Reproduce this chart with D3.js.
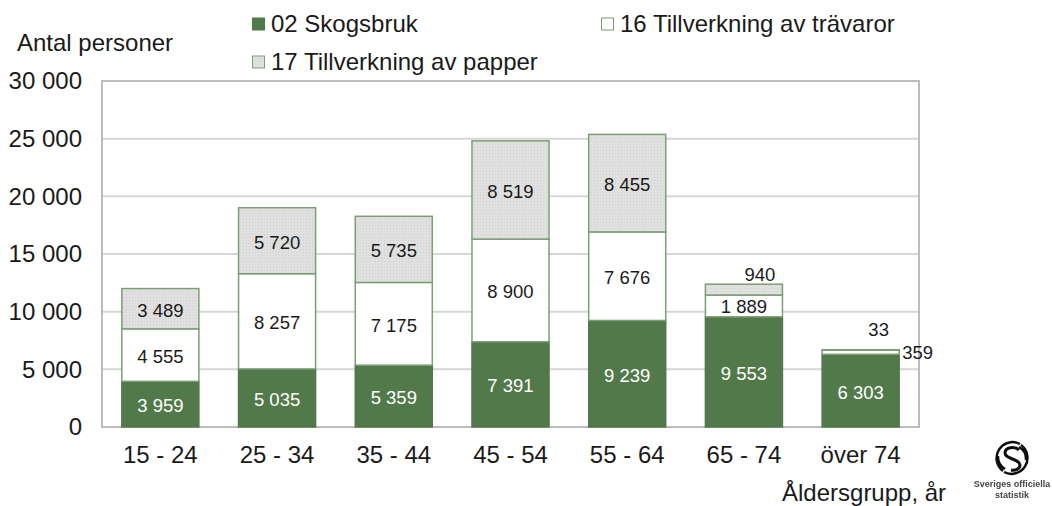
<!DOCTYPE html>
<html>
<head>
<meta charset="utf-8">
<script src="https://cdn.jsdelivr.net/npm/d3@7"></script>
<style>
html, body { margin: 0; padding: 0; background: #fff; }
svg { display: block; }
text { font-family: "Liberation Sans", Arial, sans-serif; fill: #1a1a1a; }
</style>
</head>
<body>
<div class="vis"></div>
<script>
const ageGroups = ["15 - 24", "25 - 34", "35 - 44", "45 - 54", "55 - 64", "65 - 74", "över 74"];
const skogsbruk = [3959, 5035, 5359, 7391, 9239, 9553, 6303];
const travaror = [4555, 8257, 7175, 8900, 7676, 1889, 359];
const papper = [3489, 5720, 5735, 8519, 8455, 940, 33];
const yTicks = [0, 5000, 10000, 15000, 20000, 25000, 30000];
const legendNames = ["02 Skogsbruk", "16 Tillverkning av trävaror", "17 Tillverkning av papper"];

const w = 1052, h = 506;
const green = "#52794a";
const edge = "#7d9d76";

const svg = d3.select(".vis").append("svg").attr("width", w).attr("height", h);

// dotted grey fill used for the paper series
const defs = svg.append("defs");
const pat = defs.append("pattern")
    .attr("id", "dots")
    .attr("patternUnits", "userSpaceOnUse")
    .attr("width", 3).attr("height", 3);
pat.append("rect").attr("width", 3).attr("height", 3).attr("fill", "#e0e0e0");
pat.append("rect").attr("width", 1).attr("height", 1).attr("fill", "#d0d0d0");

defs.append("filter").attr("id", "soft")
    .append("feGaussianBlur").attr("stdDeviation", 0.5);

const fmt = d => d3.format(",")(d).replace(/,/g, " ");

const plot = { left: 102, right: 919, top: 81, bottom: 427 };

const x = d3.scaleBand().domain(ageGroups).range([plot.left, plot.right]).paddingInner(0.34).paddingOuter(0.17);
const y = d3.scaleLinear().domain([0, 30000]).range([plot.bottom, plot.top]);

// gridlines
svg.append("g").selectAll("line").data(yTicks.slice(1, -1)).join("line")
    .attr("x1", plot.left).attr("x2", plot.right)
    .attr("y1", d => y(d)).attr("y2", d => y(d))
    .attr("stroke", "#d6d6d6").attr("stroke-width", 2);

// frame
svg.append("rect")
    .attr("x", plot.left).attr("y", plot.top)
    .attr("width", plot.right - plot.left).attr("height", plot.bottom - plot.top)
    .attr("fill", "none").attr("stroke", "#bcbcbc").attr("stroke-width", 2);

// y axis
const yAxis = svg.append("g")
    .attr("transform", `translate(${plot.left}, 0)`)
    .call(d3.axisLeft(y).tickValues(yTicks).tickFormat(fmt).tickSize(0).tickPadding(20));
yAxis.select(".domain").remove();
yAxis.selectAll("text").style("font-size", "24px");

// x axis
const xAxis = svg.append("g")
    .attr("transform", `translate(0, ${plot.bottom})`)
    .call(d3.axisBottom(x).tickSize(0).tickPadding(19));
xAxis.select(".domain").remove();
xAxis.selectAll("text").style("font-size", "24px");

// stacked bars
const rows = ageGroups.map((g, i) => ({ group: g, s: skogsbruk[i], t: travaror[i], p: papper[i] }));
const stack = d3.stack().keys(["s", "t", "p"])(rows);
const fills = { s: green, t: "#ffffff", p: "url(#dots)" };

svg.append("g").selectAll("g").data(stack).join("g")
    .selectAll("rect").data(d => d.map(v => ({ key: d.key, v }))).join("rect")
    .attr("x", d => x(d.v.data.group))
    .attr("width", x.bandwidth())
    .attr("y", d => y(d.v[1]))
    .attr("height", d => y(d.v[0]) - y(d.v[1]))
    .attr("fill", d => fills[d.key])
    .attr("stroke", d => d.key == "s" ? green : edge)
    .attr("stroke-width", 1.5);

// data labels, the small segments get nudged off the bar
const nudge = {
    "p-65 - 74": [16, -17],
    "t-65 - 74": [0, -1],
    "p-över 74": [18, -22],
    "t-över 74": [57, -1]
};
stack.forEach(layer => {
    svg.append("g").selectAll("text").data(layer).join("text")
        .attr("x", d => {
            const n = nudge[`${layer.key}-${d.data.group}`];
            return x(d.data.group) + x.bandwidth() / 2 + (n ? n[0] : 0);
        })
        .attr("y", d => {
            const n = nudge[`${layer.key}-${d.data.group}`];
            return (y(d[0]) + y(d[1])) / 2 + 8 + (n ? n[1] : 0);
        })
        .attr("text-anchor", "middle")
        .style("font-size", "18.5px")
        .style("fill", layer.key == "s" ? "#ffffff" : "#1a1a1a")
        .text(d => fmt(d[1] - d[0]));
});

// legend
const legendPos = [[252, 32], [601, 32], [252, 70]];
const legendFill = [green, "#ffffff", "url(#dots)"];
const legend = svg.append("g").selectAll("g").data(legendNames).join("g")
    .attr("transform", (d, i) => `translate(${legendPos[i][0]}, ${legendPos[i][1]})`);
legend.append("rect")
    .attr("x", 0.5).attr("y", -14).attr("width", 12).attr("height", 12)
    .attr("fill", (d, i) => legendFill[i])
    .attr("stroke", (d, i) => i == 0 ? green : edge).attr("stroke-width", 1);
legend.append("text")
    .attr("x", 19).attr("y", 0)
    .style("font-size", "24px")
    .text(d => d);

// axis titles
svg.append("text").attr("x", 17).attr("y", 51).style("font-size", "24px").text("Antal personer");
svg.append("text").attr("x", 782).attr("y", 501).style("font-size", "24px").text("Åldersgrupp, år");

// logo
const logo = svg.append("g").attr("transform", "translate(1012, 458)").attr("filter", "url(#soft)");
logo.append("path")
    .attr("d", "M8 -14 A16 16 0 0 0 -9 13 M-8 14 A16 16 0 0 0 9 -13 M-14 -2 A14 14 0 0 0 -7 11 M14 2 A14 14 0 0 0 7 -11")
    .attr("fill", "none").attr("stroke", "#111").attr("stroke-width", 2.5);
logo.append("path")
    .attr("d", "M7 -8 C3 -12 -7 -11 -7 -5 C-7 1 8 1 8 7 C8 11 3 13 -1 12")
    .attr("fill", "none").attr("stroke", "#111").attr("stroke-width", 3);
logo.append("text").attr("x", 0).attr("y", 29).attr("text-anchor", "middle")
    .style("font-size", "9px").style("font-weight", "bold").style("fill", "#444").text("Sveriges officiella");
logo.append("text").attr("x", 0).attr("y", 40).attr("text-anchor", "middle")
    .style("font-size", "9px").style("font-weight", "bold").style("fill", "#444").text("statistik");
</script>
</body>
</html>
